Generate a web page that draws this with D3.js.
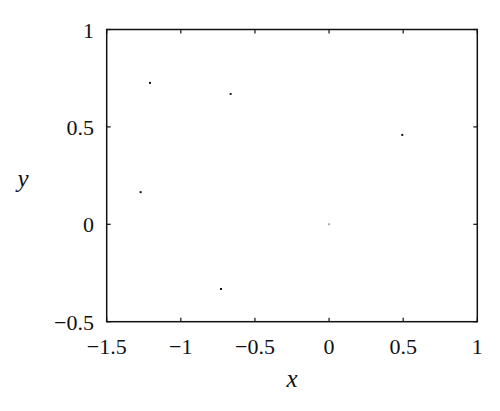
<!DOCTYPE html>
<html lang="en">
<head>
    <meta charset="UTF-8">
    <title>scatter</title>
    <script src="https://d3js.org/d3.v7.min.js"></script>
    <style>
        body { margin: 0; background: #fff; }
    </style>
</head>
<body>
<svg id="main" width="500" height="411"></svg>

<script>
    // points
    let xs = [-1.208, -0.664, 0.494, -1.271, 0.0, -0.729]
    let ys = [0.726, 0.669, 0.459, 0.165, 0.0, -0.332]
    let shade = ["#111", "#222", "#111", "#111", "#aaa", "#111"]

    let xTicks = [-1.5, -1, -0.5, 0, 0.5, 1]
    let yTicks = [-0.5, 0, 0.5, 1]

    let serif = "'Liberation Serif', 'Times New Roman', 'DejaVu Serif', serif"
    let svg = d3.select("#main")
    let mLeft = 106.7, mRight = 477.3, mTop = 29.5, mBottom = 321.7

    let x = d3.scaleLinear().domain([-1.5, 1]).range([mLeft, mRight])
    let y = d3.scaleLinear().domain([-0.5, 1]).range([mBottom, mTop])

    let fmt = d => (d < 0 ? "\u2212" : "") + Math.abs(d)

    // frame
    svg.append("rect")
        .attr("x", mLeft).attr("y", mTop)
        .attr("width", mRight - mLeft).attr("height", mBottom - mTop)
        .attr("fill", "none").attr("stroke", "#111").attr("stroke-width", 1.5)

    // ticks on all four sides, pointing inward
    let tl = 4
    svg.append("g").selectAll("line").data(xTicks).join("line")
        .attr("x1", d => x(d)).attr("x2", d => x(d))
        .attr("y1", mBottom).attr("y2", mBottom - tl)
        .attr("stroke", "#111").attr("stroke-width", 1.2)
    svg.append("g").selectAll("line").data(xTicks).join("line")
        .attr("x1", d => x(d)).attr("x2", d => x(d))
        .attr("y1", mTop).attr("y2", mTop + tl)
        .attr("stroke", "#111").attr("stroke-width", 1.2)
    svg.append("g").selectAll("line").data(yTicks).join("line")
        .attr("x1", mLeft).attr("x2", mLeft + tl)
        .attr("y1", d => y(d)).attr("y2", d => y(d))
        .attr("stroke", "#111").attr("stroke-width", 1.2)
    svg.append("g").selectAll("line").data(yTicks).join("line")
        .attr("x1", mRight).attr("x2", mRight - tl)
        .attr("y1", d => y(d)).attr("y2", d => y(d))
        .attr("stroke", "#111").attr("stroke-width", 1.2)

    // tick labels
    svg.append("g").selectAll("text").data(xTicks).join("text")
        .attr("x", d => x(d)).attr("y", 354)
        .attr("text-anchor", "middle")
        .attr("font-family", serif)
        .attr("font-size", 22)
        .attr("fill", "#111")
        .text(fmt)
    svg.append("g").selectAll("text").data(yTicks).join("text")
        .attr("x", 94).attr("y", d => y(d) + 8)
        .attr("text-anchor", "end")
        .attr("font-family", serif)
        .attr("font-size", 22)
        .attr("fill", "#111")
        .text(fmt)

    // axis titles
    svg.append("text")
        .attr("x", (mLeft + mRight) / 2).attr("y", 387)
        .attr("text-anchor", "middle")
        .attr("font-family", serif)
        .attr("font-size", 25).attr("font-style", "italic")
        .attr("fill", "#111")
        .text("x")
    svg.append("text")
        .attr("x", 23).attr("y", 187)
        .attr("text-anchor", "middle")
        .attr("font-family", serif)
        .attr("font-size", 25).attr("font-style", "italic")
        .attr("fill", "#111")
        .text("y")

    // points
    svg.append("g").selectAll("rect").data(xs).join("rect")
        .attr("x", (d, i) => x(d) - 1)
        .attr("y", (d, i) => y(ys[i]) - 1)
        .attr("width", 2).attr("height", 2)
        .attr("fill", (d, i) => shade[i])
</script>
</body>
</html>
